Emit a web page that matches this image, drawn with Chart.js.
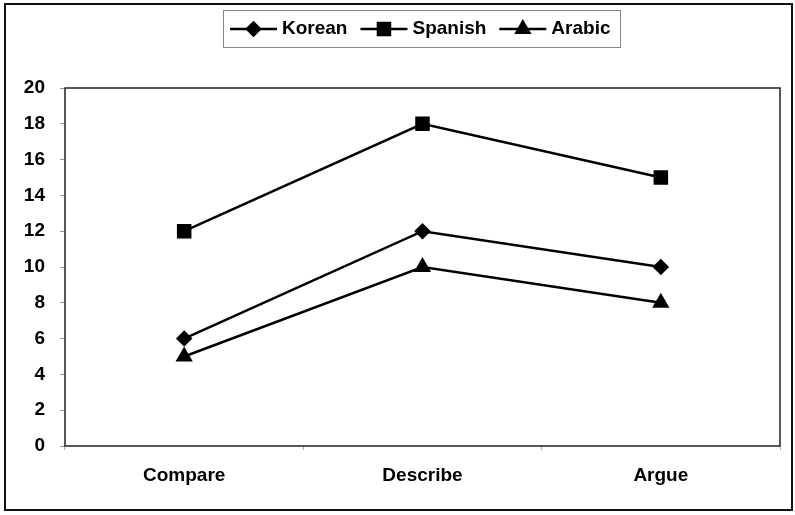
<!DOCTYPE html>
<html><head><meta charset="utf-8">
<script src="https://cdn.jsdelivr.net/npm/chart.js@4"></script>
<style>html,body{margin:0;padding:0;background:#fff}#wrap{width:795px;height:515px}</style>
</head><body><div id="wrap"><canvas id="c" width="795" height="515"></canvas></div>
<script>
const categories = ["Compare", "Describe", "Argue"];
const korean = [6, 12, 10];
const spanish = [12, 18, 15];
const arabic = [5, 10, 8];
const yTicks = [0, 2, 4, 6, 8, 10, 12, 14, 16, 18, 20];

const FONT = '"Liberation Sans", Arial, sans-serif';

const framePlugin = {
  id: 'frame',
  afterDraw(chart) {
    const ctx = chart.ctx, a = chart.chartArea;
    ctx.save();
    // outer frame
    ctx.strokeStyle = '#111'; ctx.lineWidth = 2;
    ctx.strokeRect(5, 4, chart.width - 8, chart.height - 9);
    // plot area box
    ctx.strokeStyle = '#222'; ctx.lineWidth = 1.5;
    ctx.strokeRect(a.left, a.top, a.right - a.left, a.bottom - a.top);
    // legend
    ctx.font = 'bold 19px ' + FONT;
    ctx.textBaseline = 'middle';
    const seg = 47, gap = 5, between = 13;
    const items = chart.data.datasets.map(d => ({d, w: seg + gap + ctx.measureText(d.label).width}));
    const total = items.reduce((s, i) => s + i.w, 0) + between * (items.length - 1);
    const padL = 7, padR = 10;
    const left = 223;
    let x = left + padL;
    const y = 29;
    ctx.strokeStyle = '#888'; ctx.lineWidth = 1;
    ctx.strokeRect(left + 0.5, 10.5, Math.round(total + padL + padR), 37);
    items.forEach(it => {
      ctx.strokeStyle = '#000'; ctx.lineWidth = 2.5;
      ctx.beginPath(); ctx.moveTo(x, y); ctx.lineTo(x + seg, y); ctx.stroke();
      ctx.fillStyle = '#000';
      Chart.helpers.drawPoint(ctx, {pointStyle: it.d.pointStyle, radius: it.d.pointRadius, rotation: 0, borderWidth: 1}, x + seg / 2, y);
      ctx.fill();
      ctx.fillStyle = '#000';
      ctx.fillText(it.d.label, x + seg + gap, y);
      x += it.w + between;
    });
    ctx.restore();
  }
};

const common = {borderColor: '#000', backgroundColor: '#000', pointBackgroundColor: '#000', pointBorderColor: '#000', borderWidth: 2.5, tension: 0, fill: false};

new Chart(document.getElementById('c'), {
  type: 'line',
  data: {
    labels: categories,
    datasets: [
      Object.assign({label: 'Korean', data: korean, pointStyle: 'rectRot', pointRadius: 6.5}, common),
      Object.assign({label: 'Spanish', data: spanish, pointStyle: 'rect', pointRadius: 8.5}, common),
      Object.assign({label: 'Arabic', data: arabic, pointStyle: 'triangle', pointRadius: 7.5}, common)
    ]
  },
  options: {
    responsive: false,
    animation: false,
    events: [],
    layout: {padding: {left: 0, right: 15, top: 88, bottom: 0}},
    plugins: {legend: {display: false}, tooltip: {enabled: false}},
    scales: {
      x: {
        offset: true,
        grid: {display: true, drawOnChartArea: false, drawTicks: true, tickLength: 4, tickColor: '#aaa', offset: true},
        border: {display: false},
        ticks: {color: '#000', font: {family: FONT, size: 19, weight: 'bold'}, padding: 14, maxRotation: 0},
        afterFit(s) { s.height = 69; }
      },
      y: {
        min: 0, max: 20,
        afterBuildTicks(s) { s.ticks = yTicks.map(v => ({value: v})); },
        grid: {display: true, drawOnChartArea: false, drawTicks: true, tickLength: 5, tickColor: '#999'},
        border: {display: false},
        ticks: {color: '#000', font: {family: FONT, size: 19, weight: 'bold'}, padding: 15},
        afterFit(s) { s.width = 65; }
      }
    }
  },
  plugins: [framePlugin]
});
</script></body></html>
